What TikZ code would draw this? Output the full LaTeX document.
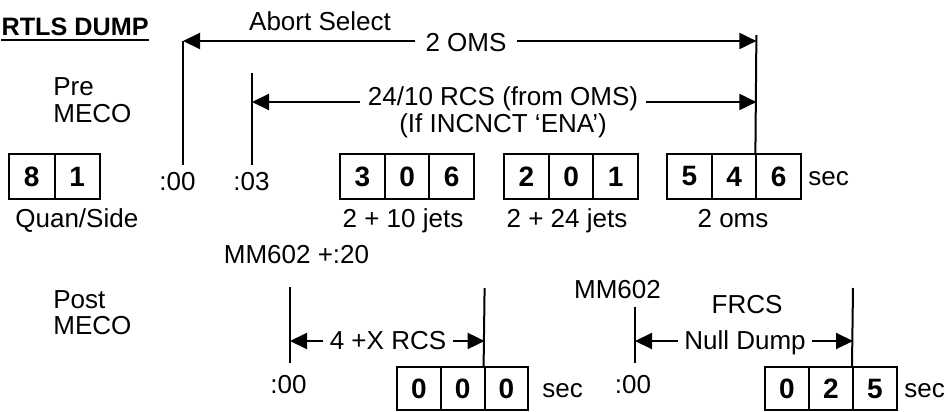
\documentclass[tikz,border=0pt]{standalone}
\usepackage{fontspec}
\setmainfont{Liberation Sans}
\usetikzlibrary{arrows.meta}

\begin{document}
\begin{tikzpicture}[x=0.5pt, y=-0.5pt, inner sep=0pt, font=\fontsize{13}{16}\selectfont,
    cellbox/.style={draw, line width=1pt, minimum width=22.35pt, minimum height=22.5pt, font=\fontsize{14}{16}\selectfont\bfseries},
    lowbox/.style={cellbox, minimum width=21.9pt, minimum height=21.5pt},
    tickline/.style={line width=1pt},
    dimline/.style={line width=1pt, -{Triangle[length=8.5pt, width=8pt]}},
    gaplabel/.style={inner xsep=4pt}]
  \useasboundingbox (0,0) rectangle (948,412);

  % title and row names
  \node[anchor=base east, font=\fontsize{12.6}{16}\selectfont\bfseries] (title) at (149,35) {RTLS DUMP};
  \draw[line width=1pt] ([yshift=-2.5pt]title.base west) -- ([yshift=-2.5pt]title.base east);
  \node[anchor=base west] (pre) at (53,95) {Pre};
  \node[anchor=base west] (premeco) at (53,122) {MECO};
  \node[anchor=base west] (post) at (53,308) {Post};
  \node[anchor=base west] (postmeco) at (53,334) {MECO};

  % pre MECO counters
  \foreach \d [count=\i] in {8,1}
    \node[cellbox, minimum width=22.75pt] (q\i) at (9+45.5*\i-22.75,176.5) {\d};
  \foreach \d [count=\i] in {3,0,6}
    \node[cellbox] (a\i) at (340+44.7*\i-22.35,176.5) {\d};
  \foreach \d [count=\i] in {2,0,1}
    \node[cellbox] (b\i) at (504+44.7*\i-22.35,176.5) {\d};
  \foreach \d [count=\i] in {5,4,6}
    \node[cellbox] (c\i) at (667+44.7*\i-22.35,176.5) {\d};

  \node[anchor=base west] (quan) at (15,227) {Quan/Side};
  \node[anchor=base] (jets10) at (403,227) {2 + 10 jets};
  \node[anchor=base] (jets24) at (567,227) {2 + 24 jets};
  \node[anchor=base] (omsjets) at (733,227) {2 oms};
  \node[anchor=base west] (sectop) at (808,185) {sec};

  \node[anchor=base] (zero) at (177.5,190) {:00};
  \node[anchor=base] (three) at (251.5,190) {:03};

  % pre MECO ticks
  \coordinate (s0) at (183,41);
  \coordinate (s0b) at (183,165);
  \coordinate (s3) at (252,102);
  \coordinate (s3t) at (252,73);
  \coordinate (s3b) at (252,165);
  \coordinate (e0) at (756.4,35);
  \coordinate (e1) at (756.4,41);
  \coordinate (e3) at (756.4,102);
  \draw[tickline] (s0) -- (s0b);
  \draw[tickline] (s3t) -- (s3b);
  \draw[tickline] (e0) -- (c3.north west);

  \node[anchor=base] (abort) at (320,30) {Abort Select};
  \node[gaplabel, inner xsep=5pt, anchor=base] (oms) at (466,51) {2 OMS};
  \draw[dimline] (oms.west |- s0) -- (s0);
  \draw[dimline] (oms.east |- e1) -- (e1);
  \node[gaplabel, anchor=base] (rcs) at (503,105) {24/10 RCS (from OMS)};
  \node[anchor=base] (ena) at (503,132) {(If INCNCT ‘ENA’)};
  \draw[dimline] (rcs.west |- s3) -- (s3);
  \draw[dimline] (rcs.east |- e3) -- (e3);

  % post MECO counters
  \foreach \d [count=\i] in {0,0,0}
    \node[lowbox] (m\i) at (397+43.8*\i-21.9,388.5) {\d};
  \foreach \d [count=\i] in {0,2,5}
    \node[lowbox, minimum width=22pt] (n\i) at (765+44*\i-22,388.5) {\d};
  \node[anchor=base west] (secm) at (542,397) {sec};
  \node[anchor=base west] (secn) at (904,397) {sec};

  \node[anchor=base] (mm20) at (296.5,263) {MM602 +:20};
  \node[anchor=base] (zerom) at (288.5,393) {:00};
  \node[anchor=base] (mm602) at (617.5,298) {MM602};
  \node[anchor=base] (frcs) at (747,313) {FRCS};
  \node[anchor=base] (zeron) at (633,393) {:00};

  % post MECO ticks
  \coordinate (p0) at (290,287);
  \coordinate (p0b) at (290,363);
  \coordinate (p1) at (290,341);
  \coordinate (p2t) at (484.6,288);
  \coordinate (p2) at (484.6,341);
  \coordinate (r0) at (635,307);
  \coordinate (r0b) at (635,363);
  \coordinate (r1) at (635,341);
  \coordinate (r2t) at (853,288);
  \coordinate (r2) at (853,341);
  \draw[tickline] (p0) -- (p0b);
  \draw[tickline] (p2t) -- (m3.north west);
  \draw[tickline] (r0) -- (r0b);
  \draw[tickline] (r2t) -- (n3.north west);

  \node[gaplabel, inner xsep=3pt, anchor=base] (xrcs) at (388,349) {4 +X RCS};
  \draw[dimline] (xrcs.west |- p1) -- (p1);
  \draw[dimline] (xrcs.east |- p2) -- (p2);
  \node[gaplabel, inner xsep=3pt, anchor=base] (null) at (745,349) {Null Dump};
  \draw[dimline] (null.west |- r1) -- (r1);
  \draw[dimline] (null.east |- r2) -- (r2);
\end{tikzpicture}
\end{document}
